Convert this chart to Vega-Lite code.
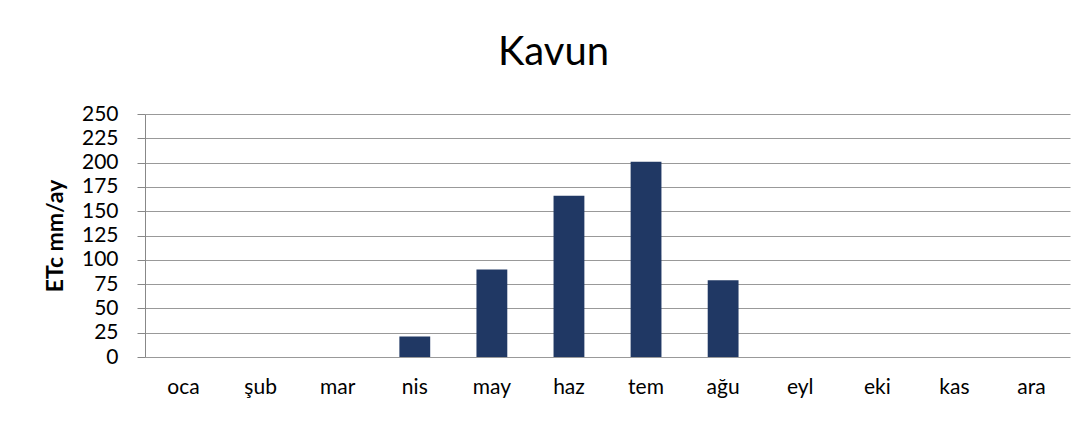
{
  "$schema": "https://vega.github.io/schema/vega-lite/v6.json",
  "width": 925,
  "height": 243,
  "autosize": {"type": "none"},
  "padding": {"left": 145, "top": 114, "right": 19, "bottom": 66},
  "background": "white",
  "title": {
    "text": "Kavun",
    "font": "Lato",
    "fontSize": 40,
    "fontWeight": "normal",
    "color": "#000000",
    "anchor": "middle",
    "dx": -54,
    "offset": 30
  },
  "data": {
    "values": [
      {"ay": "oca", "etc": 0},
      {"ay": "şub", "etc": 0},
      {"ay": "mar", "etc": 0},
      {"ay": "nis", "etc": 21},
      {"ay": "may", "etc": 90},
      {"ay": "haz", "etc": 166},
      {"ay": "tem", "etc": 201},
      {"ay": "ağu", "etc": 79},
      {"ay": "eyl", "etc": 0},
      {"ay": "eki", "etc": 0},
      {"ay": "kas", "etc": 0},
      {"ay": "ara", "etc": 0}
    ]
  },
  "mark": {"type": "bar", "color": "#203864"},
  "encoding": {
    "x": {
      "field": "ay",
      "type": "nominal",
      "sort": null,
      "scale": {"paddingInner": 0.6, "paddingOuter": 0.3},
      "axis": {
        "title": null,
        "labelAngle": 0,
        "ticks": false,
        "domain": false,
        "labelFont": "Lato",
        "labelFontSize": 21,
        "labelColor": "#000000",
        "labelPadding": 19
      }
    },
    "y": {
      "field": "etc",
      "type": "quantitative",
      "scale": {"domain": [0, 250], "nice": false},
      "axis": {
        "title": "ETc mm/ay",
        "titleFont": "Lato",
        "titleFontSize": 23,
        "titleFontWeight": "bold",
        "titleColor": "#000000",
        "titlePadding": 14,
        "values": [0, 25, 50, 75, 100, 125, 150, 175, 200, 225, 250],
        "labelFont": "Lato",
        "labelFontSize": 21,
        "labelColor": "#000000",
        "labelPadding": 19,
        "tickSize": 8,
        "tickColor": "#888888",
        "domainColor": "#888888",
        "gridColor": "#999999",
        "gridWidth": 1.2
      }
    }
  },
  "config": {"view": {"stroke": null}}
}
